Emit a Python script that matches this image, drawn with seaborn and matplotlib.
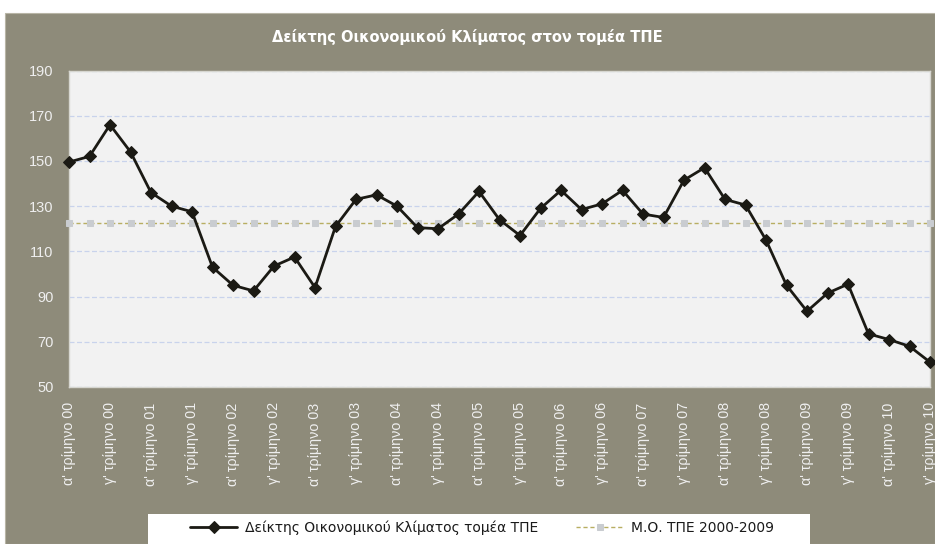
import matplotlib
matplotlib.use("Agg")
import matplotlib.pyplot as plt
import matplotlib.patches as mpatches
import seaborn as sns
import pandas as pd
import numpy as np

# ---- data ----
quarters = [f"{q}' τρίμηνο {y:02d}" for y in range(0, 11) for q in ["α", "β", "γ", "δ"]][:43]
index_values = [149.5, 152, 166, 154, 136, 130, 127.5, 103, 95, 92.5, 103.5, 107.5, 94,
                121, 133, 135, 130, 120.5, 120, 126.5, 136.5, 124, 117, 129, 137, 128.5, 131,
                137, 126.5, 125, 141.5, 147, 133, 130.5, 115, 95, 83.5, 91.5, 95.5, 73.5, 71, 68, 61]
avg_value = 122.7
series_main = "Δείκτης Οικονομικού Κλίματος τομέα ΤΠΕ"
series_avg = "Μ.Ο. ΤΠΕ 2000-2009"
title = "Δείκτης Οικονομικού Κλίματος στον τομέα ΤΠΕ"
y_ticks = [50, 70, 90, 110, 130, 150, 170, 190]

df = pd.DataFrame({"pos": np.arange(len(quarters)), "quarter": quarters,
                   "main": index_values, "avg": [avg_value] * len(quarters)})

sns.set_theme(style="white")
plt.rcParams['font.family'] = ['DejaVu Sans']

BG = "#8e8b7a"
fig = plt.figure(figsize=(9.35, 5.44), dpi=100, facecolor="white")
bg = mpatches.Rectangle((5 / 935, 0), 930 / 935, 531 / 544,
                        transform=fig.transFigure, facecolor=BG,
                        edgecolor="#b8b5a6", linewidth=0.8, zorder=-10)
fig.patches.append(bg)
legbox = mpatches.Rectangle((148 / 935, 0), 662 / 935, 30 / 544,
                            transform=fig.transFigure, facecolor="white",
                            edgecolor="none", zorder=-5)
fig.patches.append(legbox)

ax = fig.add_axes([69 / 935, 1 - 387 / 544, 861 / 935, 316.5 / 544])
ax.set_zorder(1)
ax.set_facecolor("#f2f2f2")

sns.lineplot(data=df, x="pos", y="avg", ax=ax, color="#b8ae62", linewidth=1.0,
             linestyle=(0, (3, 2)), marker="s", markersize=4.5,
             markerfacecolor="#c9ccd0", markeredgecolor="#c9ccd0",
             label=series_avg, clip_on=False, zorder=3)
sns.lineplot(data=df, x="pos", y="main", ax=ax, color="#1b1a14", linewidth=2.0,
             marker="D", markersize=6.5, markerfacecolor="#1b1a14",
             markeredgecolor="#1b1a14", label=series_main, clip_on=False, zorder=4)

ax.set_xlim(0, len(quarters) - 1)
ax.set_ylim(50, 190)
ax.set_yticks(y_ticks)
ax.set_xticks(df["pos"][::2])
ax.set_xticklabels(df["quarter"][::2], rotation=90, fontsize=10.3,
                   family="Liberation Sans", color="#efefef", va="top")
ax.set_yticklabels([str(v) for v in y_ticks], fontsize=10.5,
                   family="Liberation Sans", color="#efefef")
ax.tick_params(axis="both", length=0)
ax.tick_params(axis="y", pad=11)
ax.tick_params(axis="x", pad=11)
ax.set_xlabel("")
ax.set_ylabel("")
ax.yaxis.grid(True, color="#c9d3ec", linestyle=(0, (4, 2)), linewidth=0.9)
ax.set_axisbelow(True)
for s in ax.spines.values():
    s.set_color("#d6d6d0")
    s.set_linewidth(1.0)

fig.text(0.5, 1 - 37 / 544, title, ha="center", va="center", color="white",
         fontsize=10.5, fontweight="bold")

h, l = ax.get_legend_handles_labels()
ax.get_legend().remove()
leg = fig.legend([h[1], h[0]], [l[1], l[0]], loc="center left",
                 bbox_to_anchor=(190 / 935, 1 - 528 / 544), ncol=2, frameon=False,
                 fontsize=10, handlelength=3.4, columnspacing=2.7,
                 borderpad=0, borderaxespad=0, handletextpad=0.58)
for t in leg.get_texts():
    t.set_color("#1a1a1a")

fig.savefig("out.png", dpi=100, facecolor=fig.get_facecolor())
